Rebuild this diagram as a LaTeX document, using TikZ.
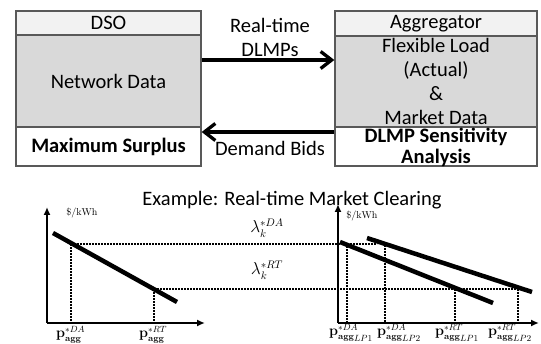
\documentclass[tikz,border=0pt]{standalone}
\usepackage{amsmath}
\usepackage[no-math]{fontspec}
\setmainfont{Carlito}
\usetikzlibrary{arrows.meta}
\definecolor{hdrfill}{HTML}{F2F2F2}
\definecolor{bodyfill}{HTML}{D9D9D9}
\definecolor{edge}{HTML}{595959}
\newcommand{\lpsub}[1]{\raisebox{-1.6pt}{$\scriptstyle #1$}}
\begin{document}
\begin{tikzpicture}[x=1pt,y=-1pt,
  every node/.style={font=\fontsize{20.5}{24}\selectfont, inner sep=0pt},
  cell/.style={draw=edge, line width=1.3pt, minimum width=#1, align=center},
  hdr/.style={fill=hdrfill},
  bodyc/.style={fill=bodyfill},
  plain/.style={fill=white},
  bigarrow/.style={line width=3.3pt, -{Straight Barb[length=11pt,width=17pt]}},
  axis/.style={line width=1.8pt, -{Latex[length=8pt,width=7pt]}},
  demand/.style={line width=4.5pt},
  guide/.style={line width=1.8pt, dash pattern=on 1.6pt off 1.4pt},
  unit/.style={font=\fontsize{10}{12}\selectfont},
  qlab/.style={font=\fontsize{13.5}{15}\selectfont, anchor=base west},
  lam/.style={font=\fontsize{16}{18}\selectfont}
]
\useasboundingbox (0,0) rectangle (541,344);

% DSO box
\node[cell=185pt, hdr, minimum height=24pt] (dsoh) at (108.5,23) {DSO};
\node[cell=185pt, bodyc, minimum height=92pt] (dsob) at (108.5,81) {Network Data};
\node[cell=185pt, plain, minimum height=39pt] (dsof) at (108.5,146.5) {\textbf{Maximum Surplus}};

% Aggregator box
\node[cell=202pt, hdr, minimum height=25pt] (aggh) at (436,23.5) {Aggregator};
\node[cell=202pt, bodyc, minimum height=91pt] (aggb) at (436,81.5) {};
\node (aggtxt) at (436,81) [align=center] {Flexible Load\\(Actual)\\\&\\Market Data};
\node[cell=202pt, plain, minimum height=39pt] (aggf) at (436,146.5) {};
\node (aggftxt) at (436,147.5) [align=center, font=\fontsize{20.5}{20.5}\selectfont\bfseries] {DLMP Sensitivity\\Analysis};

% arrows between boxes
\draw[bigarrow] (dsob.east |- 0,60) -- (aggb.west |- 0,60);
\draw[bigarrow] (aggf.west |- 0,132) -- (dsof.east |- 0,132);
\node (rt) at (270,37) [align=center] {Real-time\\DLMPs};
\node (db) at (270,148) {Demand Bids};

% title
\node (title) at (292,200) {Example: Real-time Market Clearing};

% left chart
\coordinate (o1) at (47,323);
\draw[axis] (o1) -- (47,207);
\draw[axis] (o1) -- (205,323);
\coordinate (l1a) at (53,233);
\coordinate (l1b) at (177,302);
\draw[demand] (l1a) -- (l1b);
\coordinate (d1) at (71,244);
\coordinate (r1) at (154,289);
\draw[guide] (d1) -- (71,322);
\draw[guide] (r1) -- (154,322);
\draw[guide] (d1) -- (377,244);
\draw[guide] (r1) -- (520,289);
\node[unit] (u1) at (82,213) {$\$/\mathrm{kWh}$};
\node[qlab] (p1) at (56,338) {$\mathbf{p}^{*DA}_{\mathbf{agg}}$};
\node[qlab] (p2) at (139,338) {$\mathbf{p}^{*RT}_{\mathbf{agg}}$};

% lambdas
\node[lam] (lda) at (267,228) {$\lambda_k^{*DA}$};
\node[lam] (lrt) at (267,270) {$\lambda_k^{*RT}$};

% right chart
\coordinate (o2) at (338,323);
\draw[axis] (o2) -- (338,204);
\draw[axis] (o2) -- (539,323);
\draw[demand] (340,242) -- (493,303);
\draw[demand] (367,238) -- (532,292);
\draw[guide] (347,246) -- (347,322);
\draw[guide] (385,245) -- (385,322);
\draw[guide] (455,289) -- (455,322);
\draw[guide] (518,289) -- (518,322);
\node[unit] (u2) at (362,216) {$\$/\mathrm{kWh}$};
\node[qlab] (p3) at (329,336) {$\mathbf{p}^{*DA}_{\mathbf{agg}\lpsub{LP1}}$};
\node[qlab] (p4) at (377,336) {$\mathbf{p}^{*DA}_{\mathbf{agg}\lpsub{LP2}}$};
\node[qlab] (p5) at (435,336) {$\mathbf{p}^{*RT}_{\mathbf{agg}\lpsub{LP1}}$};
\node[qlab] (p6) at (488,336) {$\mathbf{p}^{*RT}_{\mathbf{agg}\lpsub{LP2}}$};
\end{tikzpicture}
\end{document}
